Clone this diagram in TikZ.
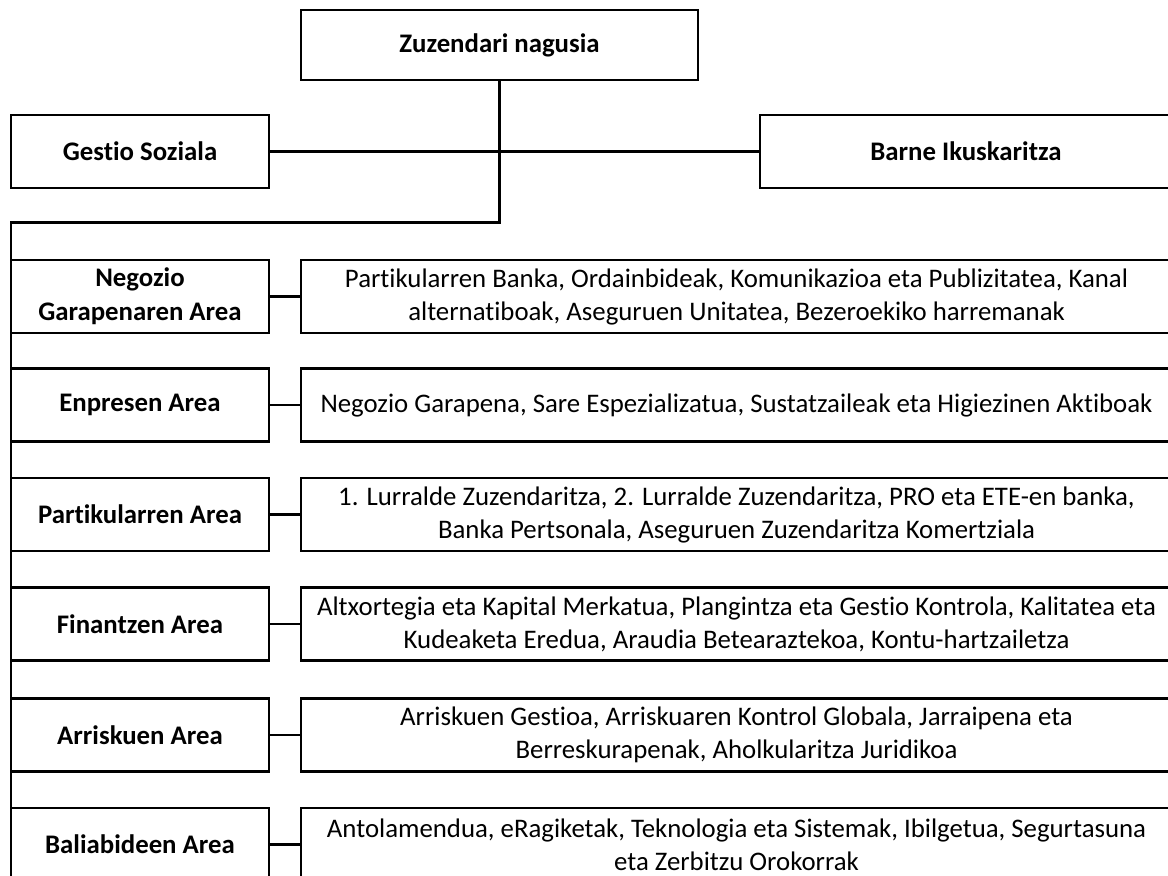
\documentclass[tikz,border=0pt]{standalone}
\usepackage{fontspec}
\setmainfont[Ligatures=NoCommon]{Carlito}
\usetikzlibrary{positioning}
\tikzset{box/.style={draw,line width=2.2pt,inner sep=0pt,outer sep=0pt,align=center,minimum height=73pt,font=\fontsize{26.8}{33}\selectfont},
  head/.style={box,font=\fontsize{26.8}{34}\selectfont\bfseries},
  area/.style={head,minimum width=258pt},
  units/.style={box,minimum width=871pt},
  link/.style={line width=2.2pt}}

\begin{document}
\begin{tikzpicture}[x=1pt,y=-1pt]

\useasboundingbox (0,0) rectangle (1168,876);
\clip (0,0) rectangle (1168,876);

% Top of the chart
\node[head,minimum width=397pt,minimum height=70pt] (zuzendari) at (499.5,45) {Zuzendari nagusia};
\node[head,minimum width=258pt] (gestio) at (140,151.5) {Gestio Soziala};
\node[head,minimum width=412pt] (barne) at (966,151.5) {Barne Ikuskaritza};

% The areas
\node[area] (negozio) at (140,296.5) {Negozio\\Garapenaren Area};
\node[area] (enpresen) at (140,405) {Enpresen Area};
\node[area] (partikular) at (140,514.5) {Partikularren Area};
\node[area] (finantzen) at (140,624) {Finantzen Area};
\node[area] (arriskuen) at (140,735) {Arriskuen Area};
\node[area] (baliabide) at (140,844.5) {Baliabideen Area};

% What each area holds
\node[units,right=32pt of negozio] (negozio-units) {Partikularren Banka, Ordainbideak, Komunikazioa eta Publizitatea, Kanal\\alternatiboak, Aseguruen Unitatea, Bezeroekiko harremanak};
\node[units,right=32pt of enpresen] (enpresen-units) {Negozio Garapena, Sare Espezializatua, Sustatzaileak eta Higiezinen Aktiboak};
\node[units,right=32pt of partikular] (partikular-units) {1. Lurralde Zuzendaritza, 2. Lurralde Zuzendaritza, PRO eta ETE-en banka,\\Banka Pertsonala, Aseguruen Zuzendaritza Komertziala};
\node[units,right=32pt of finantzen] (finantzen-units) {Altxortegia eta Kapital Merkatua, Plangintza eta Gestio Kontrola, Kalitatea eta\\Kudeaketa Eredua, Araudia Betearaztekoa, Kontu-hartzailetza};
\node[units,right=32pt of arriskuen] (arriskuen-units) {Arriskuen Gestioa, Arriskuaren Kontrol Globala, Jarraipena eta\\Berreskurapenak, Aholkularitza Juridikoa};
\node[units,right=32pt of baliabide] (baliabide-units) {Antolamendua, eRagiketak, Teknologia eta Sistemak, Ibilgetua, Segurtasuna\\eta Zerbitzu Orokorrak};

% The trunk
\coordinate (elbow) at (499.5,222.5);
\coordinate (corner) at (11,222.5);
\coordinate (trunk-end) at (11,880);
\draw[link] (zuzendari.south) -- (elbow) -- (corner) -- (trunk-end);
\draw[link] (gestio) -- (barne);

% Areas to their units
\draw[link] (negozio) -- (negozio-units);
\draw[link] (enpresen) -- (enpresen-units);
\draw[link] (partikular) -- (partikular-units);
\draw[link] (finantzen) -- (finantzen-units);
\draw[link] (arriskuen) -- (arriskuen-units);
\draw[link] (baliabide) -- (baliabide-units);

\end{tikzpicture}
\end{document}
